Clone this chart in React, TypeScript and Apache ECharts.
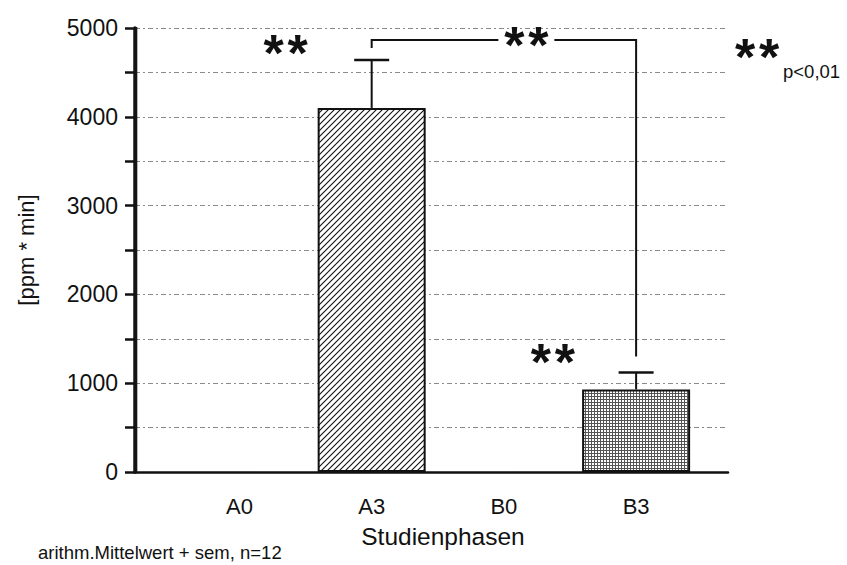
import React, { useEffect, useRef } from "react";
import * as echarts from "echarts";

// Study phases and measured area-under-curve values
const categories = ["A0", "A3", "B0", "B3"];
const means = [0, 4100, 0, 930];
const sems = [0, 540, 0, 190];

// Horizontal layout in category units: phases sit at index + X_OFFSET on a value axis
const X_OFFSET = 0.79;
const X_MAX = 4.485;
const xPos = categories.map((_, i) => i + X_OFFSET);

// Y range of the value axis
const Y_MIN = 0;
const Y_MAX = 5000;

// Significance bracket between A3 and B3 (value units)
const bracketFromIdx = 1;
const bracketToIdx = 3;
const bracketTop = 4865;
const bracketLeftEnd = 4775;
const bracketRightEnd = 1300;
const bracketStarX = 2.17;

// Standalone "**" marks placed in data units [category position, y]
const starMarks = [
  [0.35, 4780],
  [2.37, 1295],
];

const FONT = "'Liberation Sans', Arial, Helvetica, sans-serif";
const INK = "#111";

function hatchPattern(): HTMLCanvasElement {
  const s = 6;
  const c = document.createElement("canvas");
  c.width = s;
  c.height = s;
  const g = c.getContext("2d")!;
  g.fillStyle = "#fff";
  g.fillRect(0, 0, s, s);
  g.strokeStyle = "#111";
  g.lineWidth = 1.1;
  g.beginPath();
  g.moveTo(-1, s + 1);
  g.lineTo(s + 1, -1);
  g.moveTo(-1, 1);
  g.lineTo(1, -1);
  g.moveTo(s - 1, s + 1);
  g.lineTo(s + 1, s - 1);
  g.stroke();
  return c;
}

function gridPattern(): HTMLCanvasElement {
  const s = 3;
  const c = document.createElement("canvas");
  c.width = s;
  c.height = s;
  const g = c.getContext("2d")!;
  g.fillStyle = "#fff";
  g.fillRect(0, 0, s, s);
  g.fillStyle = "#555";
  g.fillRect(0, 0, 1, s);
  g.fillRect(0, 0, s, 1);
  return c;
}

function starPair(cx: number, cy: number, size = 52) {
  return [-12, 12].map((dx) => ({
    type: "text",
    style: {
      x: cx + dx,
      y: cy + size * 0.1,
      text: "*",
      fontSize: size,
      fontWeight: "bold",
      fontFamily: FONT,
      fill: INK,
      align: "center",
      verticalAlign: "middle",
    },
  }));
}

export default function App() {
  const ref = useRef<HTMLDivElement>(null);

  useEffect(() => {
    if (!ref.current) return;
    const chart = echarts.init(ref.current, undefined, { renderer: "svg" });
    const hatch = hatchPattern();
    const grid = gridPattern();

    // Phases with a zero mean have no visible bar
    const barData = means
      .map((v, i) => ({
        value: [xPos[i], v],
        itemStyle: {
          color: { image: i === 1 ? hatch : grid, repeat: "repeat" } as any,
          borderColor: INK,
          borderWidth: 2,
        },
      }))
      .filter((d) => d.value[1] > 0);

    const errData = means
      .map((v, i) => [xPos[i], v, sems[i]])
      .filter((d) => d[2] > 0);

    chart.setOption({
      animation: false,
      backgroundColor: "#fff",
      grid: { left: 135, right: 119, top: 28, bottom: 93 },
      xAxis: {
        type: "value",
        min: 0,
        max: X_MAX,
        splitLine: { show: false },
        axisTick: { show: false },
        axisLine: { show: true, lineStyle: { color: INK, width: 2.5 } },
        axisLabel: {
          customValues: xPos,
          formatter: (v: number) => categories[Math.round(v - X_OFFSET)] ?? "",
          fontSize: 22,
          fontFamily: FONT,
          color: INK,
          margin: 23,
        },
        name: "Studienphasen",
        nameLocation: "middle",
        nameGap: 52,
        nameTextStyle: { fontSize: 24.5, fontFamily: FONT, color: INK, padding: [0, 0, 0, 23] },
      },
      yAxis: {
        type: "value",
        min: Y_MIN,
        max: Y_MAX,
        interval: 500,
        axisLine: { show: true, lineStyle: { color: "#141414", width: 3.5 } },
        axisTick: { show: true, length: 10, lineStyle: { color: INK, width: 2.5 } },
        axisLabel: {
          formatter: (v: number) => (v % 1000 === 0 ? String(v) : ""),
          fontSize: 23,
          fontFamily: FONT,
          color: INK,
          margin: 17,
          padding: [0, 0, 8, 0],
        },
        splitLine: {
          show: true,
          lineStyle: { type: [5, 3, 2, 3], color: "#8a8a8a", width: 1 },
        },
        name: "[ppm * min]",
        nameLocation: "middle",
        nameGap: 98,
        nameTextStyle: { fontSize: 22, fontFamily: FONT, color: INK },
      },
      series: [
        {
          // solid vertical rule along the value axis
          type: "custom",
          z: 6,
          clip: false,
          silent: true,
          data: [[0.01, Y_MIN, Y_MAX]],
          renderItem: (_p: any, api: any) => {
            const a = api.coord([api.value(0), api.value(1)]);
            const b = api.coord([api.value(0), api.value(2)]);
            return {
              type: "line",
              shape: { x1: a[0], y1: a[1] + 1.25, x2: b[0], y2: b[1] - 1 },
              style: { stroke: "#161616", lineWidth: 2 },
            };
          },
        },
        {
          type: "bar",
          data: barData,
          barWidth: 108,
          z: 3,
        },
        {
          type: "custom",
          z: 4,
          data: errData,
          renderItem: (_p: any, api: any) => {
            const x = api.value(0);
            const m = api.value(1);
            const e = api.value(2);
            const base = api.coord([x, m]);
            const top = api.coord([x, m + e]);
            return {
              type: "group",
              children: [
                {
                  type: "line",
                  shape: { x1: base[0], y1: base[1], x2: top[0], y2: top[1] },
                  style: { stroke: INK, lineWidth: 2 },
                },
                {
                  type: "line",
                  shape: { x1: top[0] - 17.5, y1: top[1], x2: top[0] + 17.5, y2: top[1] },
                  style: { stroke: INK, lineWidth: 2.5 },
                },
              ],
            };
          },
        },
        {
          type: "custom",
          z: 5,
          data: [
            [
              xPos[bracketFromIdx],
              xPos[bracketToIdx],
              bracketTop,
              bracketLeftEnd,
              bracketRightEnd,
              bracketStarX + X_OFFSET,
            ],
          ],
          renderItem: (_p: any, api: any) => {
            const a = api.value(0);
            const b = api.value(1);
            const t = api.value(2);
            const p1 = api.coord([a, api.value(3)]);
            const p2 = api.coord([a, t]);
            const p3 = api.coord([b, t]);
            const p4 = api.coord([b, api.value(4)]);
            const s = api.coord([api.value(5), t]);
            return {
              type: "group",
              children: [
                {
                  type: "polyline",
                  shape: { points: [p1, p2, p3, p4] },
                  style: { stroke: INK, lineWidth: 2, fill: "none" },
                },
                {
                  type: "rect",
                  shape: { x: s[0] - 28, y: s[1] - 8, width: 56, height: 16 },
                  style: { fill: "#fff" },
                },
                ...starPair(s[0], s[1]),
              ],
            };
          },
        },
        {
          type: "custom",
          z: 5,
          data: starMarks.map(([x, y]) => [x + X_OFFSET, y]),
          renderItem: (_p: any, api: any) => {
            const c = api.coord([api.value(0), api.value(1)]);
            return { type: "group", children: starPair(c[0], c[1]) };
          },
        },
      ],
      graphic: [
        { type: "group", children: starPair(757, 52) },
        {
          type: "text",
          left: 783,
          top: 62,
          style: { text: "p<0,01", fontSize: 18.5, fontFamily: FONT, fill: INK },
        },
        {
          type: "text",
          left: 38,
          top: 543,
          style: {
            text: "arithm.Mittelwert + sem, n=12",
            fontSize: 18.5,
            fontFamily: FONT,
            fill: INK,
          },
        },
      ],
    } as any);

    return () => chart.dispose();
  }, []);

  return (
    <div
      ref={ref}
      style={{ position: "absolute", left: 0, top: 0, width: 847, height: 565, background: "#fff" }}
    />
  );
}
